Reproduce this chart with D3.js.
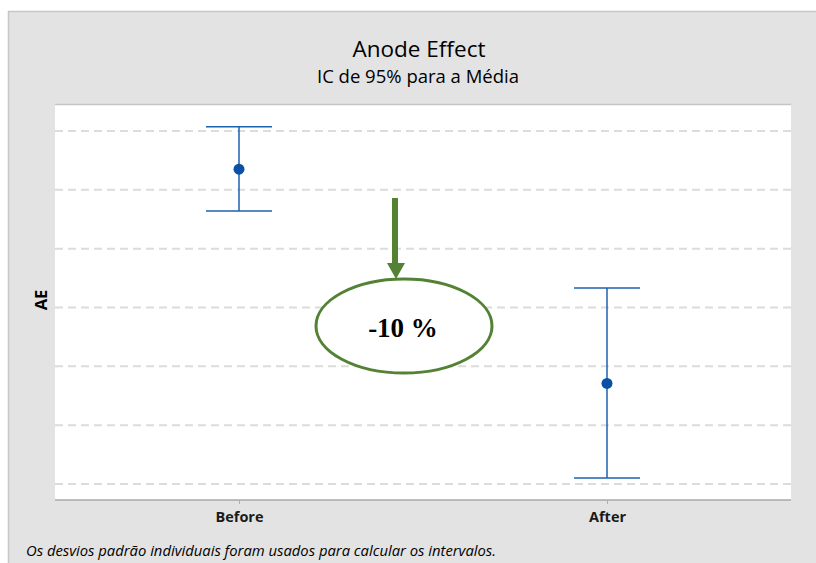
<!DOCTYPE html>
<html><head><meta charset="utf-8">
<script src="https://cdn.jsdelivr.net/npm/d3@7"></script>
<style>body{margin:0;background:#fff}svg{display:block}</style>
</head><body>
<svg id="c" width="816" height="563"></svg>
<script>
// Data (y axis has no printed values; units = gridline steps)
const categories = ["Before", "After"];
const means = [5.35, 1.71];
const lower = [4.64, 0.10];
const upper = [6.07, 3.33];
const gridValues = [0, 1, 2, 3, 4, 5, 6];
const title = "Anode Effect";
const subtitle = "IC de 95% para a Média";
const yLabel = "AE";
const footnote = "Os desvios padrão individuais foram usados para calcular os intervalos.";
const annotation = "-10 %";

const svg = d3.select("#c");
const W = 816, H = 563;
const plot = {l: 55, r: 791, t: 104.5, b: 500};
const font = "'Open Sans', 'Noto Sans', sans-serif";

// outer background
svg.append("rect").attr("x", 8).attr("y", 11).attr("width", W - 8).attr("height", H - 11)
  .attr("fill", "#e3e3e3");
svg.append("line").attr("x1", 8).attr("x2", W).attr("y1", 11.5).attr("y2", 11.5).attr("stroke", "#c6c6c6").attr("stroke-width", 1.5);
svg.append("line").attr("x1", 8.5).attr("x2", 8.5).attr("y1", 11).attr("y2", H).attr("stroke", "#c6c6c6").attr("stroke-width", 1.5);

const x = d3.scalePoint().domain(categories).range([plot.l, plot.r]).padding(0.5);
const y = d3.scaleLinear().domain([-0.272, 6.45]).range([plot.b, plot.t]);

// plot area
svg.append("rect").attr("x", plot.l).attr("y", plot.t).attr("width", plot.r - plot.l).attr("height", plot.b - plot.t).attr("fill", "#fff");
svg.append("line").attr("x1", plot.l).attr("x2", plot.r).attr("y1", plot.t).attr("y2", plot.t).attr("stroke", "#c4c4c4").attr("stroke-width", 1.5);

// gridlines
svg.append("g").selectAll("line").data(gridValues).join("line")
  .attr("x1", plot.l).attr("x2", plot.r)
  .attr("y1", d => y(d)).attr("y2", d => y(d))
  .attr("stroke", "#dcdcdc").attr("stroke-width", 2).attr("stroke-dasharray", "8,5");

// x axis
const xAxis = d3.axisBottom(x).tickSize(4).tickPadding(6);
const gx = svg.append("g").attr("transform", `translate(0,${plot.b})`).call(xAxis);
gx.select(".domain").attr("stroke", "#a8a8a8").attr("stroke-width", 1.5).attr("d", `M${plot.l},0H${plot.r}`);
gx.selectAll(".tick line").attr("stroke", "#b0b0b0");
gx.selectAll(".tick text").attr("font-family", font).attr("font-size", 14.5).attr("font-weight", "bold").attr("fill", "#1a1a1a").attr("dy", "0.85em");

// intervals
const cap = 33;
const blue = "#1f60b0";
const g = svg.append("g");
categories.forEach((c, i) => {
  const cx = x(c);
  g.append("line").attr("x1", cx).attr("x2", cx).attr("y1", y(upper[i])).attr("y2", y(lower[i])).attr("stroke", blue).attr("stroke-width", 1.5);
  g.append("line").attr("x1", cx - cap).attr("x2", cx + cap).attr("y1", y(upper[i])).attr("y2", y(upper[i])).attr("stroke", blue).attr("stroke-width", 1.5);
  g.append("line").attr("x1", cx - cap).attr("x2", cx + cap).attr("y1", y(lower[i])).attr("y2", y(lower[i])).attr("stroke", blue).attr("stroke-width", 1.5);
  g.append("circle").attr("cx", cx).attr("cy", y(means[i])).attr("r", 5.5).attr("fill", "#0a50a5");
});

// titles
svg.append("text").attr("x", 419).attr("y", 57).attr("text-anchor", "middle").attr("font-family", font).attr("font-size", 22.5).attr("font-weight", 500).attr("fill", "#000").text(title);
svg.append("text").attr("x", 418).attr("y", 83).attr("text-anchor", "middle").attr("font-family", font).attr("font-size", 18.5).attr("fill", "#000").text(subtitle);
svg.append("text").attr("transform", "translate(47,300) rotate(-90)").attr("text-anchor", "middle").attr("font-family", font).attr("font-size", 16.5).attr("font-weight", "bold").attr("fill", "#000").text(yLabel);
svg.append("text").attr("x", 26).attr("y", 556).attr("font-family", font).attr("font-size", 14.8).attr("font-style", "italic").attr("fill", "#000").text(footnote);

// annotation: arrow + ellipse
const green = "#548235";
svg.append("line").attr("x1", 395).attr("x2", 395).attr("y1", 198).attr("y2", 264).attr("stroke", green).attr("stroke-width", 6);
svg.append("path").attr("d", "M387,263 L405,263 L396,279 Z").attr("fill", green);
svg.append("ellipse").attr("cx", 404).attr("cy", 326).attr("rx", 88).attr("ry", 47).attr("fill", "#fff").attr("stroke", green).attr("stroke-width", 3);
svg.append("text").attr("x", 403).attr("y", 337).attr("text-anchor", "middle").attr("font-family", "'Liberation Serif', 'Times New Roman', serif").attr("font-size", 27).attr("font-weight", "bold").attr("fill", "#000").text(annotation);
</script>
</body></html>
